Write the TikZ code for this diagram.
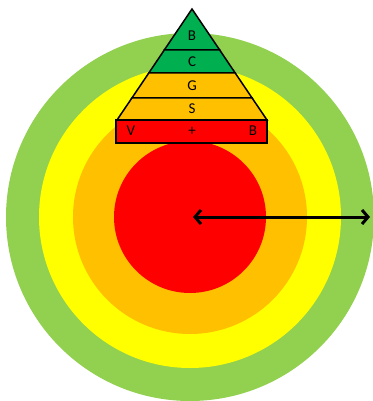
\documentclass[tikz,border=0pt]{standalone}
\usepackage{fontspec}
\setmainfont{Carlito}
\usepackage{xcolor}
\definecolor{ringGreen}{RGB}{146, 208, 80}
\definecolor{ringYellow}{RGB}{255, 255, 0}
\definecolor{ringOrange}{RGB}{255, 192, 0}
\definecolor{ringRed}{RGB}{255, 0, 0}
\definecolor{levelGreen}{RGB}{0, 176, 80}
\usepackage{tikz}
\usetikzlibrary{arrows.meta, positioning}

\begin{document}
\begin{tikzpicture}[x=1pt, y=-1pt,
  level/.style={draw=black, line width=1.5pt, line join=miter},
  lbl/.style={font=\fontsize{15}{17}\selectfont, inner sep=0pt},
  spanarrow/.style={draw=black, line width=3pt,
                 {Straight Barb[length=6pt, width=14pt, line width=3pt]}-{Straight Barb[length=6pt, width=14pt, line width=3pt]}}]

  \useasboundingbox (0,0) rectangle (372,401);

  % ---- Rings ----
  \fill[ringGreen]  (190,217) circle[radius=184pt];
  \fill[ringYellow] (190,217) circle[radius=151pt];
  \fill[ringOrange] (190,217) circle[radius=117pt];
  \fill[ringRed]    (190,217) circle[radius=76pt];

  % ---- Radius Arrow ----
  \coordinate (centre) at (193,217);
  \coordinate (edge)   at (370,217);
  \draw[spanarrow] (centre) -- (edge);

  % ---- Pyramid Levels ----
  \draw[level, fill=levelGreen]  (192,9) -- (219.7,50) -- (164.3,50) -- cycle;
  \draw[level, fill=levelGreen]  (164.3,50) -- (219.7,50) -- (235.2,73) -- (148.8,73) -- cycle;
  \draw[level, fill=ringOrange]  (148.8,73) -- (235.2,73) -- (252.1,98) -- (131.9,98) -- cycle;
  \draw[level, fill=ringOrange]  (131.9,98) -- (252.1,98) -- (267,120) -- (117,120) -- cycle;
  \draw[level, fill=ringRed]     (116,120) rectangle (267,143);

  % ---- Labels ----
  \node[lbl] (top)    at (192,36)  {B};
  \node[lbl] (second) at (192,62)  {C};
  \node[lbl] (third)  at (192,86)  {G};
  \node[lbl] (fourth) at (192,109) {S};
  \node[lbl] (baseL)  at (131,131) {V};
  \node[lbl] (baseM)  at (192,131) {+};
  \node[lbl] (baseR)  at (253,131) {B};

\end{tikzpicture}
\end{document}
